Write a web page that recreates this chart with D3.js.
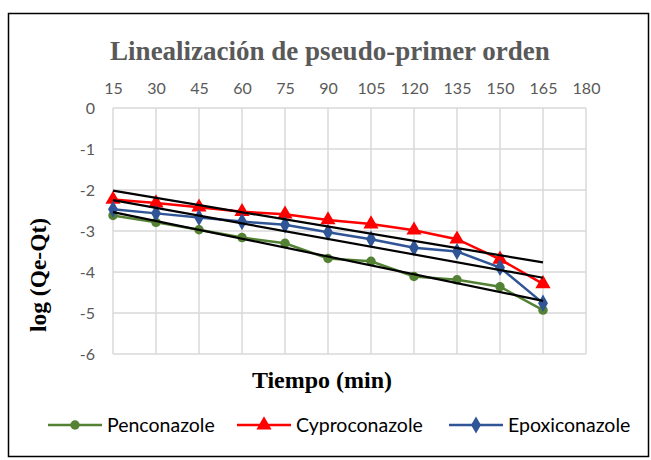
<!DOCTYPE html>
<html><head><meta charset="utf-8">
<script src="https://cdn.jsdelivr.net/npm/d3@7"></script>
<style>body{margin:0;background:#fff}</style>
</head><body>
<svg id="c" width="651" height="460"></svg>
<script>
const times = [15,30,45,60,75,90,105,120,135,150,165];
const xTicks = [15,30,45,60,75,90,105,120,135,150,165,180];
const yTicks = [0,-1,-2,-3,-4,-5,-6];
const penconazole   = [-2.62,-2.79,-2.97,-3.16,-3.30,-3.67,-3.74,-4.11,-4.19,-4.36,-4.93];
const cyproconazole = [-2.23,-2.32,-2.42,-2.53,-2.59,-2.73,-2.83,-2.98,-3.20,-3.69,-4.29];
const epoxiconazole = [-2.47,-2.57,-2.67,-2.77,-2.85,-3.03,-3.20,-3.41,-3.50,-3.89,-4.76];
const seriesNames = ["Penconazole","Cyproconazole","Epoxiconazole"];
const seriesColors = ["#548235","#ff0000","#2f5597"];
const seriesData = [penconazole, cyproconazole, epoxiconazole];
const symbols = [d3.symbolCircle, d3.symbolTriangle, d3.symbolDiamond];
const symSizes = [70, 100, 85];

const svg = d3.select("#c");
svg.append("rect").attr("x",8.5).attr("y",13.5).attr("width",640).attr("height",443)
  .attr("fill","#fff").attr("stroke","#000").attr("stroke-width",1.5);

const x = d3.scaleLinear().domain([15,180]).range([113,586]);
const y = d3.scaleLinear().domain([0,-6]).range([108,354]);

// gridlines
const g = svg.append("g");
g.selectAll(".vg").data(xTicks).join("line")
  .attr("x1",d=>x(d)).attr("x2",d=>x(d)).attr("y1",y(0)).attr("y2",y(-6))
  .attr("stroke","#d9d9d9").attr("stroke-width",1.5);
g.selectAll(".hg").data(yTicks).join("line")
  .attr("x1",x(15)).attr("x2",x(180)).attr("y1",d=>y(d)).attr("y2",d=>y(d))
  .attr("stroke","#d9d9d9").attr("stroke-width",1.5);

const tickFont = "Lato, 'Open Sans', sans-serif";
// axes labels
const xAxis = d3.axisTop(x).tickValues(xTicks).tickSize(0).tickPadding(14);
const xa = svg.append("g").attr("transform",`translate(0,${y(0)})`).call(xAxis);
xa.select(".domain").remove();
xa.selectAll("text").attr("font-family",tickFont).attr("font-size",16).attr("fill","#595959");

const yAxis = d3.axisLeft(y).tickValues(yTicks).tickSize(0).tickPadding(18).tickFormat(d=>String(d));
const ya = svg.append("g").attr("transform",`translate(${x(15)},0)`).call(yAxis);
ya.select(".domain").remove();
ya.selectAll("text").attr("font-family",tickFont).attr("font-size",16).attr("fill","#595959");

// series
const line = d3.line().x((d,i)=>x(times[i])).y(d=>y(d));
seriesData.forEach((s,k)=>{
  svg.append("path").datum(s).attr("d",line).attr("fill","none")
    .attr("stroke",seriesColors[k]).attr("stroke-width",2.5);
  svg.selectAll(".m"+k).data(s).join("path")
    .attr("transform",(d,i)=>`translate(${x(times[i])},${y(d)})`)
    .attr("d",d3.symbol().type(symbols[k]).size(symSizes[k]))
    .attr("fill",seriesColors[k]);
});

// linear trendlines (least squares)
function fit(s){
  const n=s.length, mx=d3.mean(times), my=d3.mean(s);
  let num=0,den=0;
  for(let i=0;i<n;i++){num+=(times[i]-mx)*(s[i]-my);den+=(times[i]-mx)**2;}
  const b=num/den, a=my-b*mx;
  return [[15,a+b*15],[165,a+b*165]];
}
seriesData.forEach(s=>{
  const f=fit(s);
  svg.append("line").attr("x1",x(f[0][0])).attr("y1",y(f[0][1]))
    .attr("x2",x(f[1][0])).attr("y2",y(f[1][1]))
    .attr("stroke","#000").attr("stroke-width",2.2);
});

// titles
const serif = "'Liberation Serif', 'Times New Roman', serif";
svg.append("text").attr("x",330).attr("y",60).attr("text-anchor","middle")
  .attr("font-family",serif).attr("font-weight","bold")
  .attr("font-size",27).attr("fill","#595959").text("Linealización de pseudo-primer orden");
svg.append("text").attr("x",322).attr("y",388).attr("text-anchor","middle")
  .attr("font-family",serif).attr("font-weight","bold")
  .attr("font-size",24).attr("fill","#000").text("Tiempo (min)");
svg.append("text").attr("transform","translate(46,275) rotate(-90)").attr("text-anchor","middle")
  .attr("font-family",serif).attr("font-weight","bold")
  .attr("font-size",23.5).attr("fill","#000").text("log (Qe-Qt)");

// legend
const legX = [48,237,449];
seriesNames.forEach((n,k)=>{
  const lg = svg.append("g").attr("transform",`translate(${legX[k]},425)`);
  lg.append("line").attr("x1",0).attr("x2",54).attr("stroke",seriesColors[k]).attr("stroke-width",2.5);
  lg.append("path").attr("transform","translate(27,0)")
    .attr("d",d3.symbol().type(symbols[k]).size(symSizes[k])).attr("fill",seriesColors[k]);
  lg.append("text").attr("x",59).attr("y",7).attr("font-family",tickFont)
    .attr("font-size",19.5).attr("fill","#000").text(n);
});
</script>
</body></html>
